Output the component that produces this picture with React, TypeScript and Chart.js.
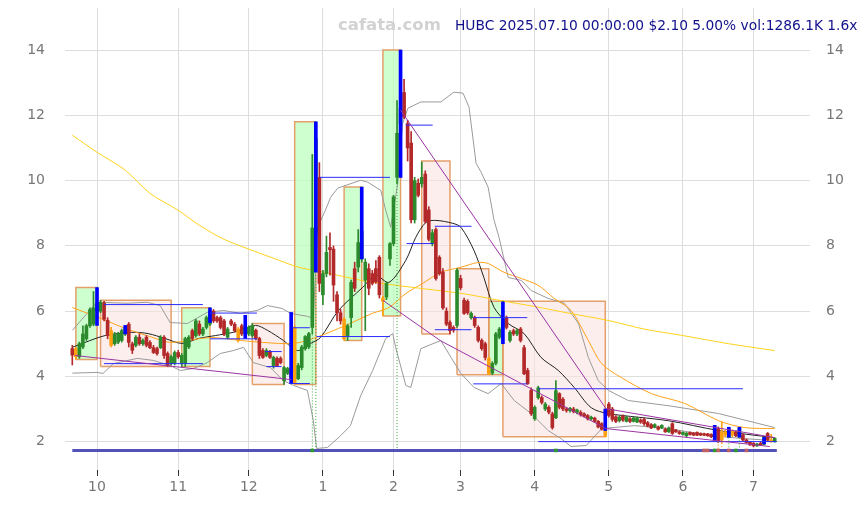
import React, { useEffect, useRef } from 'react';
import { Chart, registerables } from 'chart.js';

Chart.register(...registerables);

// ---- Daily OHLC [open, high, low, close], trading days 2024-09-20 .. 2025-07-10 ----
const ohlcSep = [
  [4.85, 4.95, 4.35, 4.65], [4.60, 4.90, 4.52, 4.85], [4.60, 5.05, 4.55, 5.00], [4.90, 5.55, 4.85, 5.30],
  [5.15, 5.60, 5.10, 5.55], [5.55, 6.10, 5.50, 6.05], [5.60, 6.60, 5.55, 6.10],
];
const ohlcOct = [
  [6.00, 6.72, 5.60, 6.25], [6.00, 6.33, 5.95, 6.27], [6.25, 6.30, 5.70, 5.75], [5.72, 5.80, 5.15, 5.25],
  [5.40, 5.50, 4.90, 4.95], [5.00, 5.35, 4.95, 5.28], [5.05, 5.35, 5.00, 5.30], [5.10, 5.45, 5.05, 5.40],
  [5.30, 5.56, 5.25, 5.50], [5.60, 5.65, 4.90, 5.04], [5.00, 5.05, 4.70, 4.80], [4.95, 5.25, 4.90, 5.20],
  [5.20, 5.30, 4.95, 5.00], [5.00, 5.15, 4.95, 5.10], [5.20, 5.25, 4.90, 4.95], [5.04, 5.10, 4.85, 4.88],
  [4.88, 4.95, 4.70, 4.73], [4.85, 4.90, 4.65, 4.70], [4.88, 5.25, 4.85, 5.20], [5.20, 5.25, 4.55, 4.64],
  [4.70, 4.75, 4.30, 4.33], [4.40, 4.65, 4.35, 4.60], [4.40, 4.78, 4.35, 4.73],
];
const ohlcNov = [
  [4.73, 4.80, 4.55, 4.60], [4.40, 4.70, 4.30, 4.64], [4.40, 5.20, 4.30, 5.16], [4.90, 5.25, 4.85, 5.20],
  [5.40, 5.45, 5.10, 5.16], [5.25, 5.75, 5.20, 5.70], [5.60, 5.70, 5.25, 5.30], [5.30, 5.50, 5.25, 5.45],
  [5.50, 5.85, 5.45, 5.80], [5.60, 6.10, 5.55, 6.00], [6.00, 6.05, 5.65, 5.70], [5.80, 5.85, 5.65, 5.70],
  [5.80, 5.85, 5.45, 5.50], [5.70, 5.75, 5.25, 5.30], [5.20, 5.50, 5.15, 5.45], [5.70, 5.75, 5.55, 5.60],
  [5.60, 5.65, 5.35, 5.40], [5.45, 5.50, 5.05, 5.10], [5.55, 5.60, 5.25, 5.30], [5.30, 5.87, 5.16, 5.50],
];
const ohlcDec = [
  [5.30, 5.55, 5.25, 5.50], [5.25, 5.62, 5.20, 5.56], [5.41, 5.45, 5.12, 5.16], [5.16, 5.20, 4.55, 4.64],
  [4.79, 4.85, 4.55, 4.58], [4.64, 4.85, 4.60, 4.79], [4.76, 4.80, 4.55, 4.58], [4.33, 4.62, 4.25, 4.58],
  [4.55, 4.60, 4.30, 4.33], [4.55, 4.60, 4.38, 4.42], [3.87, 4.30, 3.75, 4.27], [4.09, 4.28, 4.05, 4.24],
  [4.25, 4.35, 3.85, 3.95], [5.50, 5.55, 3.75, 3.80], [3.93, 4.40, 3.90, 4.33], [4.27, 4.95, 4.20, 4.90],
  [4.85, 5.25, 4.80, 5.22], [4.90, 5.35, 4.85, 5.31], [5.50, 10.80, 5.30, 8.55], [8.40, 11.80, 8.20, 11.30],
  [10.10, 10.55, 6.60, 6.85],
];
const ohlcJan = [
  [6.50, 7.25, 6.20, 7.15], [7.15, 8.30, 7.05, 7.80], [7.95, 8.40, 7.10, 7.88], [7.90, 8.00, 6.30, 6.80],
  [6.50, 6.60, 5.70, 5.95], [5.95, 6.05, 5.60, 5.70], [5.75, 5.80, 5.10, 5.15], [5.25, 5.60, 5.10, 5.55],
  [5.80, 6.95, 5.50, 6.88], [7.30, 7.50, 6.60, 6.70], [7.35, 8.50, 7.20, 8.10], [7.60, 9.80, 7.50, 8.45],
  [6.95, 7.60, 5.40, 7.50], [7.30, 7.45, 6.50, 6.70], [7.15, 7.25, 6.80, 6.85], [7.30, 7.55, 6.85, 6.90],
  [7.65, 7.70, 6.40, 6.50], [6.30, 6.45, 5.85, 6.40], [6.43, 6.90, 6.35, 6.85], [7.60, 8.10, 7.40, 8.07],
];
const ohlcFeb = [
  [8.07, 9.55, 8.00, 9.50], [10.10, 12.45, 9.90, 11.45], [11.75, 14.00, 10.10, 12.20], [12.70, 13.10, 11.90, 11.95],
  [11.75, 11.85, 10.60, 11.00], [11.15, 11.50, 8.70, 8.80], [8.80, 10.10, 8.70, 10.00], [9.92, 10.05, 9.50, 9.55],
  [9.90, 10.57, 9.80, 10.10], [10.20, 10.30, 8.70, 8.75], [9.10, 9.20, 8.15, 8.20], [8.07, 8.50, 8.00, 8.40],
  [8.50, 8.55, 6.95, 7.00], [7.65, 7.70, 7.10, 7.15], [7.20, 7.30, 6.05, 6.10], [6.00, 6.10, 5.55, 5.60],
  [5.65, 5.70, 5.30, 5.40], [5.50, 5.55, 5.35, 5.42], [5.56, 7.30, 5.50, 7.25],
];
const ohlcMar = [
  [7.00, 7.10, 6.65, 6.72], [6.33, 6.40, 5.90, 5.93], [6.30, 6.35, 5.90, 5.95], [5.80, 5.98, 5.75, 5.93],
  [5.80, 5.85, 5.50, 5.56], [5.50, 5.55, 5.05, 5.10], [5.10, 5.15, 4.80, 4.85], [5.00, 5.05, 4.50, 4.58],
  [4.55, 4.60, 4.05, 4.08], [4.10, 4.45, 4.05, 4.40], [4.40, 5.35, 4.35, 5.30], [5.20, 5.50, 5.15, 5.45],
  [5.45, 6.30, 5.00, 5.70], [5.78, 5.85, 5.45, 5.50], [5.10, 5.40, 5.05, 5.35], [5.40, 5.45, 5.25, 5.30],
  [5.30, 5.45, 5.25, 5.40], [5.45, 5.50, 5.05, 5.10], [4.88, 4.95, 4.05, 4.08], [4.18, 4.25, 3.75, 3.78],
  [3.57, 3.65, 2.80, 2.86],
];
const ohlcApr = [
  [2.70, 3.10, 2.65, 3.05], [3.35, 3.70, 3.30, 3.65], [3.35, 3.40, 3.15, 3.20], [3.00, 3.20, 2.95, 3.15],
  [3.05, 3.10, 2.85, 2.90], [2.85, 2.90, 2.38, 2.43], [2.73, 3.87, 2.70, 3.56], [3.47, 3.50, 3.00, 3.05],
  [3.30, 3.35, 2.95, 3.00], [3.00, 3.05, 2.90, 2.95], [2.95, 3.05, 2.90, 3.02], [3.00, 3.05, 2.88, 2.92],
  [2.90, 3.00, 2.85, 2.97], [2.90, 2.95, 2.78, 2.82], [2.85, 2.88, 2.75, 2.78], [2.80, 2.83, 2.66, 2.70],
  [2.70, 2.78, 2.66, 2.75], [2.72, 2.75, 2.58, 2.62], [2.62, 2.65, 2.42, 2.45], [2.55, 2.58, 2.35, 2.38],
  [2.34, 3.00, 2.15, 2.16],
];
const ohlcMay = [
  [3.15, 3.20, 2.75, 2.80], [3.00, 3.05, 2.62, 2.68], [2.76, 2.80, 2.58, 2.62], [2.64, 2.78, 2.60, 2.75],
  [2.78, 2.82, 2.62, 2.66], [2.62, 2.78, 2.60, 2.75], [2.70, 2.74, 2.58, 2.62], [2.62, 2.75, 2.60, 2.72],
  [2.60, 2.75, 2.58, 2.72], [2.66, 2.70, 2.56, 2.60], [2.68, 2.72, 2.50, 2.55], [2.58, 2.62, 2.45, 2.48],
  [2.52, 2.55, 2.40, 2.42], [2.45, 2.55, 2.42, 2.52], [2.45, 2.48, 2.35, 2.38], [2.42, 2.52, 2.40, 2.50],
  [2.38, 2.42, 2.28, 2.30], [2.30, 2.45, 2.28, 2.42], [2.55, 2.58, 2.22, 2.25], [2.35, 2.38, 2.28, 2.30],
  [2.30, 2.33, 2.22, 2.25],
];
const ohlcJun = [
  [2.22, 2.30, 2.20, 2.28], [2.18, 2.28, 2.15, 2.26], [2.28, 2.30, 2.20, 2.22], [2.26, 2.28, 2.18, 2.20],
  [2.28, 2.30, 2.18, 2.20], [2.25, 2.27, 2.18, 2.20], [2.24, 2.26, 2.18, 2.20], [2.24, 2.25, 2.16, 2.18],
  [2.22, 2.24, 2.12, 2.15], [2.10, 2.50, 2.03, 2.40], [2.40, 2.45, 1.97, 2.00], [2.05, 2.60, 1.95, 2.30],
  [2.30, 2.35, 2.15, 2.20], [2.15, 2.44, 2.13, 2.38], [2.32, 2.36, 2.15, 2.20], [2.30, 2.33, 2.15, 2.18],
  [2.15, 2.44, 2.13, 2.40], [2.20, 2.24, 2.02, 2.05], [2.05, 2.08, 1.95, 1.97], [1.98, 2.00, 1.88, 1.90],
];
const ohlcJul = [
  [1.95, 1.97, 1.84, 1.87], [1.87, 1.95, 1.85, 1.92], [1.95, 1.98, 1.88, 1.90], [1.92, 2.13, 1.90, 2.12],
  [2.25, 2.28, 2.02, 2.05], [2.05, 2.22, 1.98, 2.00], [2.00, 2.12, 1.98, 2.10],
];

// candles marked orange (box lows)
const orangeDays = [1, 11, 47, 63, 77, 88, 118, 151, 184, 185, 187, 198];
// blue signal marks [day, low, high]
const blueMarks = [
  [7, 5.56, 6.72], [15, 5.30, 5.56], [39, 5.65, 6.10], [49, 5.16, 5.87], [62, 3.78, 5.96],
  [69, 7.19, 11.80], [82, 7.60, 9.80], [93, 10.10, 14.00], [122, 5.00, 6.28], [151, 2.34, 3.00],
  [182, 2.03, 2.50], [186, 2.13, 2.44], [189, 2.13, 2.44], [196, 1.93, 2.13],
];
// consolidation boxes [startDay, endDay, low, high, kind]
const boxes: [number, number, number, number, string][] = [
  [1, 7, 4.52, 6.72, 'up'], [8, 28, 4.30, 6.33, 'down'], [31, 39, 4.30, 6.10, 'up'],
  [51, 60, 3.75, 5.62, 'down'], [63, 69, 3.75, 11.80, 'up'], [77, 82, 5.10, 9.80, 'up'],
  [88, 93, 5.85, 14.00, 'up'], [99, 107, 5.30, 10.60, 'down'], [109, 118, 4.05, 7.30, 'down'],
  [118, 122, 4.05, 6.30, 'up'], [122, 151, 2.15, 6.30, 'down'],
];
// horizontal levels [fromDay, toDay, price]
const levels = [
  [9, 37, 6.2], [9, 37, 4.39], [39, 52.3, 5.94], [39, 52.3, 5.15], [54.6, 59.3, 4.76], [55, 59.3, 4.30],
  [62.2, 67.3, 5.49], [62.5, 67.3, 3.78], [70, 90, 10.1], [69.2, 90, 5.22], [94.5, 102.1, 11.7],
  [94.7, 102.3, 8.07], [102.7, 113.1, 8.6], [102.7, 113.1, 5.43], [113.6, 128.9, 5.8],
  [113.6, 128.9, 3.77], [132, 190, 3.62], [132, 199.6, 2.0],
];
const baseLevel = [[0, 1.73], [199.6, 1.73]];
// trend lines [day, price]
const trendA = [[0.8, 4.64], [62, 3.90]];
const trendB = [[88, 6.33], [104.2, 5.10], [151.2, 2.40], [197.6, 1.85]];
const trendC = [[93, 12.16], [151.2, 3.01], [199.1, 2.12]];
// moving averages & bands [day, price]
const maLong = [
  [0, 11.39], [7, 10.87], [15, 10.32], [22, 9.61], [30, 9.09], [36, 8.63], [43, 8.2], [50, 7.9],
  [57, 7.62], [64, 7.35], [71, 7.2], [82, 6.94], [91, 6.8], [100, 6.68], [111, 6.53], [120, 6.35],
  [131, 6.14], [141, 5.93], [152, 5.71], [162, 5.45], [173, 5.25], [186, 5.0], [199, 4.79],
];
const maMid = [
  [0, 6.11], [8, 5.78], [15, 5.47], [22, 5.22], [28, 5.04], [39, 5.19], [47.6, 5.10], [54, 5.04],
  [62.7, 5.01], [69, 5.19], [77.4, 5.56], [85, 5.93], [89.7, 6.11], [94.5, 6.54], [99.3, 6.85],
  [104.4, 7.19], [110, 7.34], [114.9, 7.49], [117.8, 7.46], [122.3, 7.19], [127.2, 7.0], [132, 6.79],
  [136.5, 6.39], [141.3, 6.02], [146.2, 5.10], [150, 4.39], [155.6, 3.96], [164.1, 3.47], [173.5, 3.17],
  [183.1, 2.64], [190.5, 2.43], [199, 2.40],
];
const maShort = [
  [0, 4.89], [3.6, 5.04], [9.3, 5.25], [16.9, 5.35], [21.5, 5.31], [26.3, 5.16], [31.1, 5.01],
  [35.7, 5.16], [40.5, 5.25], [45.6, 5.35], [51.9, 5.56], [55.3, 5.41], [59.8, 5.10], [63.8, 4.79],
  [67.5, 5.01], [70.3, 5.19], [75.4, 6.02], [82.3, 6.73], [85.9, 7.10], [89.7, 6.88], [94.5, 7.56],
  [97.3, 8.26], [100.2, 8.72], [103, 8.78], [107.8, 8.69], [110.1, 8.57], [113.8, 7.86], [116.6, 7.03],
  [119.5, 6.11], [123.5, 5.62], [128, 5.31], [132.8, 4.58], [137.7, 4.18], [142.2, 3.66], [147, 3.04],
  [151.9, 2.86], [168.9, 2.64], [183.1, 2.34], [199, 2.12],
];
const bandUpper = [
  [0, 5.41], [7, 6.27], [15.5, 6.24], [21.2, 6.27], [24.9, 6.17], [27.7, 5.65], [32.6, 5.62],
  [38.2, 5.96], [42.8, 6.02], [47.6, 5.93], [52.4, 6.02], [55.3, 6.17], [59.5, 6.08], [61.8, 5.93],
  [66.6, 5.84], [68.3, 5.78], [69.5, 8.57], [71.7, 9.09], [73.2, 9.49], [75.2, 9.77], [81.7, 10.01],
  [83.7, 9.95], [87.4, 9.70], [88.8, 9.09], [90.2, 8.57], [92.2, 9.92], [93.6, 11.76], [95.1, 12.22],
  [98.75, 12.41], [104.4, 12.41], [108.1, 12.71], [110.7, 12.68], [112.4, 12.25], [114.4, 10.53],
  [115.8, 10.26], [117.8, 9.80], [119.5, 8.78], [120.9, 8.26], [123.5, 7.03], [127.2, 6.94],
  [130, 6.63], [134.8, 6.39], [139.4, 6.24], [143.4, 5.62], [146.2, 4.58], [149, 3.87], [151.9, 3.57],
  [157.5, 3.26], [168.9, 3.10], [183.1, 2.86], [199, 2.43],
];
const bandLower = [
  [0, 4.10], [7, 4.12], [8.7, 4.09], [11.6, 4.39], [18.4, 4.55], [22.9, 4.49], [27.7, 4.33],
  [30.6, 4.18], [34.3, 4.24], [38.2, 4.42], [41.9, 4.70], [45.6, 4.79], [48.5, 4.89], [51.3, 4.42],
  [56.1, 4.27], [59.8, 3.87], [62.7, 3.72], [66.6, 3.57], [68.3, 2.64], [69.2, 1.79], [72.3, 1.82],
  [76, 2.18], [78.8, 2.49], [81.7, 3.41], [85.1, 4.18], [88.8, 5.16], [90.8, 5.31], [91.6, 4.89],
  [94.5, 3.72], [95.9, 3.66], [98.75, 4.85], [104.4, 5.10], [107.3, 4.58], [110.1, 4.09],
  [113.8, 3.66], [117.8, 3.47], [121.5, 3.78], [125.2, 3.26], [130, 2.86], [134.8, 2.34],
  [138.5, 2.09], [141.3, 1.85], [145.6, 1.88], [150, 2.40], [159.3, 2.49], [168.9, 2.40],
  [181.1, 2.18], [190.5, 2.09], [199, 2.03],
];
// signal markers
const dotsGreen = [68, 137, 182, 188];
const dotsRed = [179, 180, 183, 186, 191];
const signalGreen = [[68, 10.8], [69, 7.2], [92, 10.2], [186, 2.13], [189, 2.13]];
const signalOrange = [[183, 2.0], [184, 1.95]];

// axes
const monthTicks = [7, 30, 50, 71, 91, 110, 131, 152, 173, 193];
const monthLabels = ['10', '11', '12', '1', '2', '3', '4', '5', '6', '7'];
const priceTicks = [2, 4, 6, 8, 10, 12, 14];
const titleText = 'HUBC 2025.07.10 00:00:00 $2.10 5.00% vol:1286.1K 1.6x';
const watermark = 'cafata.com';

const candles = [
  ...ohlcSep, ...ohlcOct, ...ohlcNov, ...ohlcDec, ...ohlcJan, ...ohlcFeb,
  ...ohlcMar, ...ohlcApr, ...ohlcMay, ...ohlcJun, ...ohlcJul,
];

const UP = '#2b8a2b';
const DOWN = '#b32828';
const ORANGE = '#ffa010';
const FONT = 'DejaVu Sans';

const pts = (a: number[][]) => a.map(([x, y]) => ({ x, y }));

export default function App() {
  const ref = useRef<HTMLCanvasElement>(null);

  useEffect(() => {
    const colors = candles.map(([o, , , c], i) =>
      orangeDays.includes(i) ? ORANGE : c >= o ? UP : DOWN
    );
    const lineBase = {
      type: 'line' as const,
      pointRadius: 0,
      fill: false,
      spanGaps: false,
    };

    const datasets: any[] = [];

    boxes.forEach(([s, e, lo, hi, kind]) => {
      datasets.push({
        ...lineBase,
        data: [{ x: s, y: hi }, { x: e, y: hi }],
        borderWidth: 0,
        borderColor: 'rgba(0,0,0,0)',
        backgroundColor: kind === 'up' ? 'rgba(190,255,190,0.75)' : 'rgba(252,226,226,0.6)',
        fill: { value: lo },
        order: 100,
      });
      datasets.push({
        ...lineBase,
        data: [{ x: s, y: lo }, { x: s, y: hi }, { x: e, y: hi }, { x: e, y: lo }, { x: s, y: lo }],
        borderColor: 'rgba(226,150,90,0.9)',
        borderWidth: 1.5,
        order: 99,
      });
    });

    const addLine = (data: number[][], color: string, width: number, order: number, tension = 0) =>
      datasets.push({ ...lineBase, data: pts(data), borderColor: color, borderWidth: width, order, tension });

    addLine(maLong, '#ffd21a', 1, 50, 0.3);
    addLine(maMid, '#ffa31a', 1, 50, 0.3);
    addLine(bandUpper, '#9a9a9a', 1, 50);
    addLine(bandLower, '#9a9a9a', 1, 50);
    addLine(maShort, '#222222', 1, 50, 0.3);

    datasets.push({
      type: 'bar',
      data: candles.map(([o, h, l, c], i) => ({ x: i, y: [l, h] })),
      backgroundColor: colors,
      barThickness: 1,
      grouped: false,
      order: 12,
    });
    datasets.push({
      type: 'bar',
      data: candles.map(([o, h, l, c], i) => ({ x: i, y: [Math.min(o, c), Math.max(o, c)] })),
      backgroundColor: colors,
      barThickness: 3,
      minBarLength: 1,
      grouped: false,
      order: 11,
    });
    datasets.push({
      type: 'bar',
      data: blueMarks.map(([i, lo, hi]) => ({ x: i, y: [lo, hi] })),
      backgroundColor: '#0000ff',
      barThickness: 3,
      grouped: false,
      order: 6,
    });

    const levelPts: any[] = [];
    levels.forEach(([a, b, v]) => levelPts.push({ x: a, y: v }, { x: b, y: v }, { x: b, y: null }));
    datasets.push({ ...lineBase, data: levelPts, borderColor: '#2a2aff', borderWidth: 1, order: 5 });

    const trendPts: any[] = [];
    [trendA, trendB, trendC].forEach((t) => {
      t.forEach(([x, y]) => trendPts.push({ x, y }));
      trendPts.push({ x: t[t.length - 1][0], y: null });
    });
    datasets.push({ ...lineBase, data: trendPts, borderColor: '#9b33a3', borderWidth: 1, order: 4 });

    datasets.push({ ...lineBase, data: pts(baseLevel), borderColor: '#5252b8', borderWidth: 3, order: 3 });

    const vert = (list: number[][]) => {
      const out: any[] = [];
      list.forEach(([i, top]) => out.push({ x: i, y: top }, { x: i, y: baseLevel[0][1] }, { x: i, y: null }));
      return out;
    };
    datasets.push({ ...lineBase, data: vert(signalGreen), borderColor: '#3aa83a', borderWidth: 1, borderDash: [1, 2], order: 3 });
    datasets.push({ ...lineBase, data: vert(signalOrange), borderColor: ORANGE, borderWidth: 1, borderDash: [1, 2], order: 3 });

    const dots = [
      ...dotsGreen.map((i) => ({ x: i, y: baseLevel[0][1], c: '#2f9a2f' })),
      ...dotsRed.map((i) => ({ x: i, y: baseLevel[0][1], c: '#c06060' })),
    ];
    datasets.push({
      ...lineBase,
      showLine: false,
      data: dots.map(({ x, y }) => ({ x, y })),
      pointRadius: 2.5,
      pointStyle: 'rect',
      pointBorderWidth: 0,
      pointBackgroundColor: dots.map((d) => d.c),
      order: 2,
    });

    const textPlugin = {
      id: 'texts',
      afterDraw(chart: any) {
        const ctx = chart.ctx;
        ctx.save();
        ctx.textBaseline = 'middle';
        ctx.textAlign = 'left';
        ctx.font = `bold 16.5px "${FONT}"`;
        ctx.fillStyle = '#d2d2d2';
        ctx.fillText(watermark, 338, 26);
        ctx.font = `13.8px "${FONT}"`;
        ctx.fillStyle = '#11118c';
        ctx.fillText(titleText, 455, 26);
        ctx.restore();
      },
    };

    const yCommon = {
      type: 'linear' as const,
      min: 1.13,
      max: 15.29,
      border: { display: false },
      afterBuildTicks: (s: any) => {
        s.ticks = priceTicks.map((v) => ({ value: v }));
      },
    };
    const fixY = (w: number) => (s: any) => {
      s.width = w;
      s.paddingTop = 8;
      s.paddingBottom = 0;
    };

    const chart = new Chart(ref.current!, {
      type: 'bar',
      data: { datasets },
      plugins: [textPlugin],
      options: {
        responsive: false,
        animation: false,
        events: [],
        layout: { padding: 0 },
        plugins: { legend: { display: false }, tooltip: { enabled: false }, title: { display: false } },
        scales: {
          x: {
            type: 'linear',
            min: -2.07,
            max: 209,
            offset: false,
            border: { display: false },
            grid: { color: '#dddddd', offset: false, tickColor: '#333333', tickLength: 6 },
            ticks: {
              autoSkip: false,
              maxRotation: 0,
              padding: 3,
              color: '#777777',
              font: { family: FONT, size: 14 },
              callback: (_v: any, idx: number) => monthLabels[idx],
            },
            afterBuildTicks: (s: any) => {
              s.ticks = monthTicks.map((v) => ({ value: v }));
            },
            afterFit: (s: any) => {
              s.height = 35;
              s.paddingLeft = 0;
              s.paddingRight = 0;
            },
          },
          y: {
            ...yCommon,
            position: 'left',
            grid: { color: '#dddddd', drawTicks: false },
            ticks: { padding: 20, color: '#777777', font: { family: FONT, size: 14 } },
            afterFit: fixY(65),
          },
          y2: {
            ...yCommon,
            position: 'right',
            grid: { display: false, drawTicks: false },
            ticks: { padding: 16, color: '#777777', font: { family: FONT, size: 14 } },
            afterFit: fixY(57),
          },
        },
      } as any,
    });
    return () => chart.destroy();
  }, []);

  return (
    <div style={{ position: 'fixed', left: 0, top: 0, width: 867, height: 505, background: '#ffffff' }}>
      <canvas ref={ref} width={867} height={505} style={{ display: 'block', width: 867, height: 505 }} />
    </div>
  );
}
